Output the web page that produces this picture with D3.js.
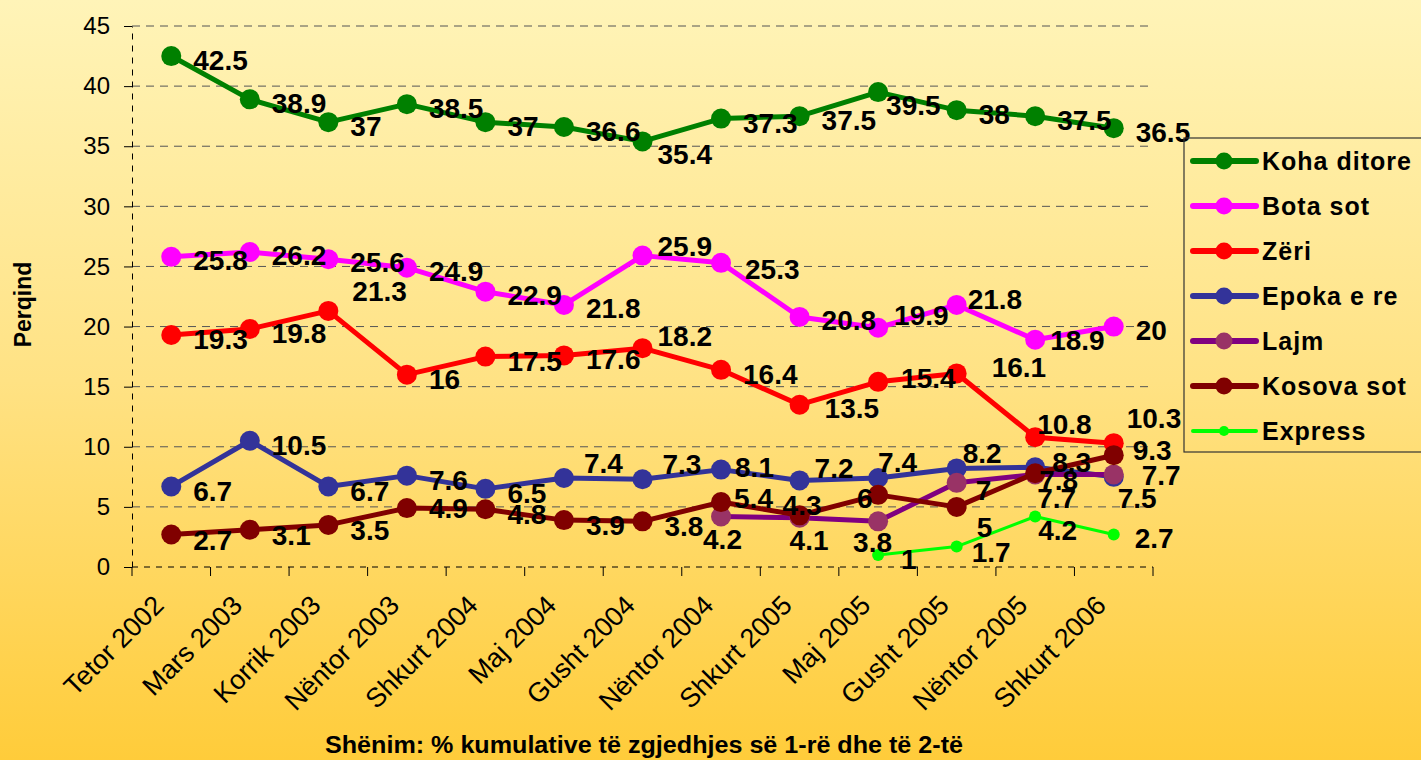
<!DOCTYPE html>
<html>
<head>
<meta charset="utf-8">
<script src="https://cdn.jsdelivr.net/npm/d3@7"></script>
<style>
  body { margin: 0; }
  svg { display: block; font-family: "Liberation Sans", Arial, sans-serif; }
</style>
</head>
<body>
<div id="chart"></div>
<script>
// survey waves
const categories = ["Tetor 2002", "Mars 2003", "Korrik 2003", "Nëntor 2003", "Shkurt 2004", "Maj 2004",
    "Gusht 2004", "Nëntor 2004", "Shkurt 2005", "Maj 2005", "Gusht 2005", "Nëntor 2005", "Shkurt 2006"];

const kohaDitore = [42.5, 38.9, 37, 38.5, 37, 36.6, 35.4, 37.3, 37.5, 39.5, 38, 37.5, 36.5];
const botaSot = [25.8, 26.2, 25.6, 24.9, 22.9, 21.8, 25.9, 25.3, 20.8, 19.9, 21.8, 18.9, 20];
const zeri = [19.3, 19.8, 21.3, 16, 17.5, 17.6, 18.2, 16.4, 13.5, 15.4, 16.1, 10.8, 10.3];
const epokaERe = [6.7, 10.5, 6.7, 7.6, 6.5, 7.4, 7.3, 8.1, 7.2, 7.4, 8.2, 8.3, 7.5];
const lajm = [null, null, null, null, null, null, null, 4.2, 4.1, 3.8, 7, 7.7, 7.7];
const kosovaSot = [2.7, 3.1, 3.5, 4.9, 4.8, 3.9, 3.8, 5.4, 4.3, 6, 5, 7.8, 9.3];
const express = [null, null, null, null, null, null, null, null, null, 1, 1.7, 4.2, 2.7];

const yTicks = [0, 5, 10, 15, 20, 25, 30, 35, 40, 45];

const series = [
    {name: "Koha ditore", values: kohaDitore, line: "#008000", dot: "#008000", w: 5, r: 10, dx: 22, dy: 4},
    {name: "Bota sot", values: botaSot, line: "#ff00ff", dot: "#ff00ff", w: 5, r: 10, dx: 22, dy: 3},
    {name: "Zëri", values: zeri, line: "#ff0000", dot: "#ff0000", w: 5, r: 10, dx: 22, dy: 4},
    {name: "Epoka e re", values: epokaERe, line: "#333399", dot: "#333399", w: 5, r: 10, dx: 22, dy: 4},
    {name: "Lajm", values: lajm, line: "#800080", dot: "#993366", w: 5, r: 10, dx: -15, dy: 22},
    {name: "Kosova sot", values: kosovaSot, line: "#800000", dot: "#800000", w: 5, r: 10, dx: 22, dy: 5},
    {name: "Express", values: express, line: "#00ff00", dot: "#00ff00", w: 3, r: 6, dx: 21, dy: 3}
];

// hand placed label offsets (series -> point index -> [dx, dy]) like in the original chart
const labelNudge = {
    "Koha ditore": {6: [15, 13], 9: [8, 13]},
    "Bota sot": {6: [15, -10], 7: [24, 6], 9: [16, -13], 10: [11, -6], 11: [15, 0]},
    "Zëri": {2: [24, -20], 6: [15, -12], 8: [25, 3], 9: [23, -4], 10: [35, -7], 11: [2, -13], 12: [13, -25]},
    "Epoka e re": {5: [20, -15], 6: [20, -15], 7: [14, -3], 8: [15, -13], 9: [0, -16], 10: [6, -15], 11: [17, -5], 12: [4, 21]},
    "Lajm": {7: [-18, 22], 8: [-10, 22], 9: [-25, 21], 10: [19, 7], 11: [2, 23], 12: [28, 0]},
    "Kosova sot": {3: [22, 0], 7: [13, -4], 8: [-17, -10], 9: [-21, 3], 10: [20, 20], 11: [4, 7], 12: [19, -5]},
    "Express": {9: [23, 4], 10: [15, 5], 11: [3, 13]}
};

const W = 1421, H = 760;
const plot = {left: 132, right: 1153, top: 26, bottom: 567};

const svg = d3.select("#chart").append("svg")
    .attr("width", W).attr("height", H);

const defs = svg.append("defs");
const grad = defs.append("linearGradient").attr("id", "bg")
    .attr("x1", 0).attr("y1", 0).attr("x2", 0).attr("y2", 1);
grad.append("stop").attr("offset", "0%").attr("stop-color", "#fff4b8");
grad.append("stop").attr("offset", "50%").attr("stop-color", "#ffe284");
grad.append("stop").attr("offset", "100%").attr("stop-color", "#ffcc3a");

svg.append("rect").attr("width", W).attr("height", H).attr("fill", "url(#bg)");

const x = d3.scaleBand().domain(categories).range([plot.left, plot.right]);
const cx = d => x(d) + x.bandwidth() / 2;
const y = d3.scaleLinear().domain([0, 45]).range([plot.bottom, plot.top]);

// gridlines
svg.append("g").selectAll("line")
    .data(yTicks.filter(t => t > 0))
    .join("line")
    .attr("x1", plot.left).attr("x2", plot.right)
    .attr("y1", d => y(d)).attr("y2", d => y(d))
    .attr("stroke", "#555").attr("stroke-width", 1)
    .attr("stroke-dasharray", "8,6");

// y axis
const yAxis = svg.append("g")
    .attr("transform", `translate(${plot.left},0)`)
    .call(d3.axisLeft(y).tickValues(yTicks).tickSize(8).tickPadding(14).tickSizeOuter(0));
yAxis.select(".domain").attr("stroke", "#000").attr("stroke-dasharray", "6,6");
yAxis.selectAll(".tick line").attr("stroke", "#000");
yAxis.selectAll(".tick text").attr("font-size", 24).attr("fill", "#000")
    .attr("font-family", "Liberation Sans, Arial, sans-serif");

// x axis: dashed base line + ticks at category boundaries
svg.append("line")
    .attr("x1", plot.left).attr("x2", plot.right)
    .attr("y1", y(0)).attr("y2", y(0))
    .attr("stroke", "#000").attr("stroke-dasharray", "6,6");
const bounds = categories.map(c => x(c)).concat([x.range()[1]]);
svg.append("g").selectAll("line")
    .data(bounds)
    .join("line")
    .attr("x1", d => d).attr("x2", d => d)
    .attr("y1", y(0)).attr("y2", y(0) + 9)
    .attr("stroke", "#000");

svg.append("g").selectAll("text")
    .data(categories)
    .join("text")
    .attr("transform", d => `translate(${cx(d) - 6},${y(0) + 40}) rotate(-45)`)
    .attr("text-anchor", "end")
    .attr("font-size", 27)
    .text(d => d);

// axis title
svg.append("text")
    .attr("transform", `translate(31,${(plot.top + plot.bottom) / 2 + 8}) rotate(-90)`)
    .attr("text-anchor", "middle")
    .attr("font-size", 23).attr("font-weight", "bold")
    .text("Perqind");

// lines & markers
const line = d3.line()
    .defined(d => d.v != null)
    .x(d => cx(d.c))
    .y(d => y(d.v));

series.forEach(s => {
    const pts = categories.map((c, i) => ({c: c, v: s.values[i]}));
    const g = svg.append("g");
    g.append("path")
        .datum(pts)
        .attr("fill", "none")
        .attr("stroke", s.line)
        .attr("stroke-width", s.w)
        .attr("stroke-linejoin", "round")
        .attr("d", line);
    g.selectAll("circle")
        .data(pts.filter(d => d.v != null))
        .join("circle")
        .attr("cx", d => cx(d.c))
        .attr("cy", d => y(d.v))
        .attr("r", s.r)
        .attr("fill", s.dot);
});

// data labels on top
series.forEach(s => {
    const nudge = labelNudge[s.name] || {};
    const pts = categories.map((c, i) => ({c: c, v: s.values[i], o: nudge[i] || [s.dx, s.dy]}))
        .filter(d => d.v != null);
    svg.append("g").selectAll("text")
        .data(pts)
        .join("text")
        .attr("x", d => cx(d.c) + d.o[0])
        .attr("y", d => y(d.v) + d.o[1])
        .attr("dy", "0.36em")
        .attr("font-size", 28).attr("font-weight", "bold")
        .text(d => d.v);
});

// legend
const lg = svg.append("g").attr("transform", "translate(1184,138)");
lg.append("rect")
    .attr("width", 260).attr("height", 314)
    .attr("fill", "none").attr("stroke", "#333").attr("stroke-width", 1.2);
const item = lg.selectAll("g.item")
    .data(series)
    .join("g")
    .attr("class", "item")
    .attr("transform", (d, i) => `translate(0,${23 + i * 45})`);
item.append("line")
    .attr("x1", 9).attr("x2", 72)
    .attr("stroke", d => d.line).attr("stroke-width", d => d.w + 1)
    .attr("stroke-linecap", "round");
item.append("circle")
    .attr("cx", 40).attr("r", d => d.r * 0.85)
    .attr("fill", d => d.dot);
item.append("text")
    .attr("x", 78).attr("dy", "0.36em")
    .attr("font-size", 25).attr("font-weight", "bold")
    .attr("letter-spacing", 1)
    .text(d => d.name);

// note
svg.append("text")
    .attr("x", 644).attr("y", 753)
    .attr("text-anchor", "middle")
    .attr("font-size", 23).attr("font-weight", "bold")
    .attr("textLength", 638).attr("lengthAdjust", "spacingAndGlyphs")
    .text("Shënim: % kumulative të zgjedhjes së 1-rë dhe të 2-të");
</script>
</body>
</html>
